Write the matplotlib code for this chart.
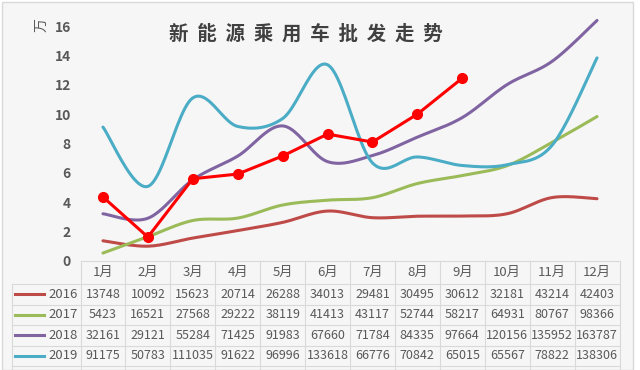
import matplotlib.pyplot as plt
import matplotlib.transforms as mtransforms
from matplotlib.patches import Rectangle
import numpy as np

plt.rcParams['font.family'] = ['Noto Sans CJK SC', 'DejaVu Sans']

# Data (units: vehicles; plotted in 万)
months = ['1月', '2月', '3月', '4月', '5月', '6月', '7月', '8月', '9月', '10月', '11月', '12月']
years = ['2016', '2017', '2018', '2019']
sales2016 = [13748, 10092, 15623, 20714, 26288, 34013, 29481, 30495, 30612, 32181, 43214, 42403]
sales2017 = [5423, 16521, 27568, 29222, 38119, 41413, 43117, 52744, 58217, 64931, 80767, 98366]
sales2018 = [32161, 29121, 55284, 71425, 91983, 67660, 71784, 84335, 97664, 120156, 135952, 163787]
sales2019 = [91175, 50783, 111035, 91622, 96996, 133618, 66776, 70842, 65015, 65567, 78822, 138306]
# 2020 row is cut off in the picture
sales2020 = [43600, 16300, 56000, 59200, 71500, 86400, 81000, 100000, 124500]

colors = ['#be4b48', '#9bbb59', '#8064a2', '#4bacc6']
red = '#ff0000'
txt = '#595959'
grid_c = '#d9d9d9'
bg = '#f6f6f6'


def smooth(y, n=24):
    # Excel-like smoothed line (Catmull-Rom / cubic Bezier, tension 1/6)
    pts = np.column_stack([np.arange(len(y)), np.asarray(y, float)])
    P = np.vstack([pts[0], pts, pts[-1]])
    out = []
    t = np.linspace(0, 1, n)[:, None]
    for i in range(1, len(P) - 2):
        p0, p1, p2, p3 = P[i - 1], P[i], P[i + 1], P[i + 2]
        b1 = p1 + (p2 - p0) / 6
        b2 = p2 - (p3 - p1) / 6
        seg = ((1 - t) ** 3) * p1 + 3 * ((1 - t) ** 2) * t * b1 + 3 * (1 - t) * t ** 2 * b2 + t ** 3 * p2
        out.append(seg if i == 1 else seg[1:])
    out = np.vstack(out)
    return out[:, 0], out[:, 1]


W, H = 640, 370
fig = plt.figure(figsize=(6.4, 3.7), dpi=100)
fig.patch.set_facecolor('white')
fx = lambda p: p / W
fy = lambda p: 1 - p / H
# chart area frame
fig.add_artist(Rectangle((fx(2), 0), fx(631), fy(2), transform=fig.transFigure,
                         facecolor=bg, edgecolor=grid_c, lw=1, zorder=0))

left, right, bottom, top = 80.5, 619.5, 261, 26
ax = fig.add_axes([left / W, (H - bottom) / H, (right - left) / W, (bottom - top) / H])
ax.set_facecolor('none')

series = [sales2016, sales2017, sales2018, sales2019]
for vals, c in zip(series, colors):
    xs, ys = smooth(np.array(vals) / 10000)
    ax.plot(xs, ys, color=c, lw=2.2, solid_capstyle='round', clip_on=False)
ax.plot(range(len(sales2020)), np.array(sales2020) / 10000, color=red, lw=2.2,
        marker='o', ms=7, zorder=5, clip_on=False)

ax.set_xlim(-0.5, len(months) - 0.5)
ax.set_ylim(0, 16)
ax.set_yticks(range(0, 17, 2))
ax.set_xticks([])
ax.tick_params(axis='y', length=0, pad=7, labelsize=10, labelcolor=txt)
for lab in ax.get_yticklabels():
    lab.set_fontweight('bold')
for s in ax.spines.values():
    s.set_visible(False)

fig.text(fx(41), fy(25), '万', rotation=90, ha='center', va='center',
         fontsize=10, color=txt)
fig.text(fx(306), fy(34), '  '.join('新能源乘用车批发走势'), ha='center', va='center',
         fontsize=14, fontweight='bold', color='#404040')

# Data table below the axis
tr = mtransforms.blended_transform_factory(ax.transData, fig.transFigure)
row_edges = [261, 284, 304.5, 325, 345.5, 366]
tab_left = 12
x_edges = np.arange(len(months) + 1) - 0.5

line_kw = dict(color=grid_c, lw=0.8)
# horizontal lines
fig.add_artist(plt.Line2D([fx(left), fx(right)], [fy(row_edges[0])] * 2, **line_kw))
for r in row_edges[1:]:
    fig.add_artist(plt.Line2D([fx(tab_left), fx(right)], [fy(r)] * 2, **line_kw))
# vertical lines
for xe in x_edges:
    fig.add_artist(plt.Line2D([xe, xe], [fy(row_edges[0]), 0], transform=tr, **line_kw))
fig.add_artist(plt.Line2D([fx(tab_left)] * 2, [fy(row_edges[1]), 0], **line_kw))

for i, m in enumerate(months):
    fig.text(i, fy((row_edges[0] + row_edges[1]) / 2), m, transform=tr,
             ha='center', va='center', fontsize=9.5, color=txt)

for r, (yr, vals, c) in enumerate(zip(years, series, colors)):
    yc = fy((row_edges[r + 1] + row_edges[r + 2]) / 2)
    fig.add_artist(plt.Line2D([fx(15), fx(44)], [yc, yc], color=c, lw=2.2))
    fig.text(fx(78), yc, yr, ha='right', va='center', fontsize=9.5, color=txt)
    for i, v in enumerate(vals):
        fig.text(i, yc, str(v), transform=tr, ha='center', va='center',
                 fontsize=9, color=txt)

fig.savefig('out.png', dpi=100, facecolor=fig.get_facecolor())
